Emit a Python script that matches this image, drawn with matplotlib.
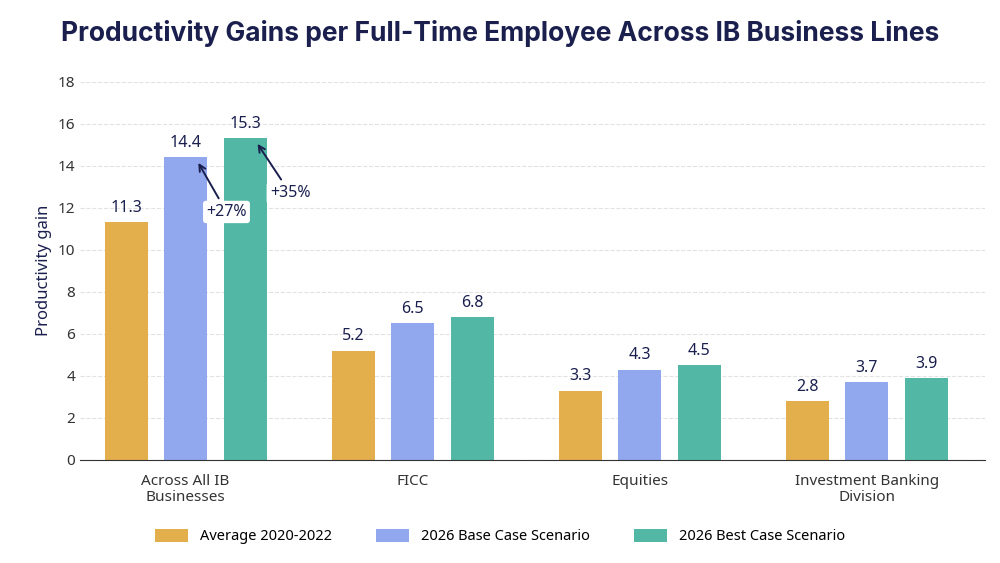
import matplotlib.pyplot as plt
import numpy as np

categories = ["Across All IB\nBusinesses", "FICC", "Equities", "Investment Banking\nDivision"]
series_names = ["Average 2020-2022", "2026 Base Case Scenario", "2026 Best Case Scenario"]
avg = [11.3, 5.2, 3.3, 2.8]
base = [14.4, 6.5, 4.3, 3.7]
best = [15.3, 6.8, 4.5, 3.9]
colors = ["#E3AE4C", "#91A7EE", "#52B8A5"]
navy = "#1A1F4E"

plt.rcParams['font.family'] = ['Noto Sans', 'DejaVu Sans']
fig = plt.figure(figsize=(10, 5.63), dpi=100)
ax = fig.add_axes([0.08, 0.183, 0.905, 0.672])

x = np.arange(len(categories))
w = 0.19
off = 0.262
for i, (vals, name, c) in enumerate(zip([avg, base, best], series_names, colors)):
    xs = x + (i - 1) * off
    ax.bar(xs, vals, w, color=c, label=name, zorder=2)
    for xi, v in zip(xs, vals):
        ax.text(xi, v + 0.3, f"{v:.1f}", ha='center', va='bottom', fontsize=11.5, color=navy)

# arrows for growth
ax.annotate("+27%", xy=(x[0] + 0.05, base[0] - 0.15), xytext=(x[0] + 0.18, 11.8),
            ha='center', va='center', fontsize=11.5, color=navy,
            bbox=dict(boxstyle='round,pad=0.2', fc='white', ec='none'),
            arrowprops=dict(arrowstyle='->', color=navy, lw=1.4))
ax.annotate("+35%", xy=(x[0] + 0.31, best[0] - 0.15), xytext=(x[0] + 0.46, 12.7),
            ha='center', va='center', fontsize=11.5, color=navy,
            bbox=dict(boxstyle='round,pad=0.2', fc='white', ec='none'),
            arrowprops=dict(arrowstyle='->', color=navy, lw=1.4))

ax.set_xlim(-0.465, 3.52)
ax.set_ylim(0, 18)
ax.set_yticks(range(0, 19, 2))
ax.set_xticks(x)
ax.set_xticklabels(categories, fontsize=11, color='#333333', linespacing=1.1)
ax.tick_params(axis='y', labelsize=11, colors='#333333', length=0)
ax.tick_params(axis='x', length=0, pad=10)
ax.set_ylabel("Productivity gain", fontsize=12, color=navy)
ax.yaxis.grid(True, linestyle='--', color='#E2E2E2', lw=0.8, zorder=0)
for s in ['top', 'right', 'left']:
    ax.spines[s].set_visible(False)
ax.spines['bottom'].set_color('#333333')

fig.suptitle("Productivity Gains per Full-Time Employee Across IB Business Lines",
             x=0.5, y=0.965, fontsize=19, fontweight='bold', color=navy,
             family=['Inter', 'DejaVu Sans'])
fig.legend(loc='lower center', ncol=3, frameon=False, fontsize=10.5,
           bbox_to_anchor=(0.5, 0.01), handlelength=2.3, handleheight=1.0, columnspacing=3)

fig.savefig("out.png", dpi=100)
